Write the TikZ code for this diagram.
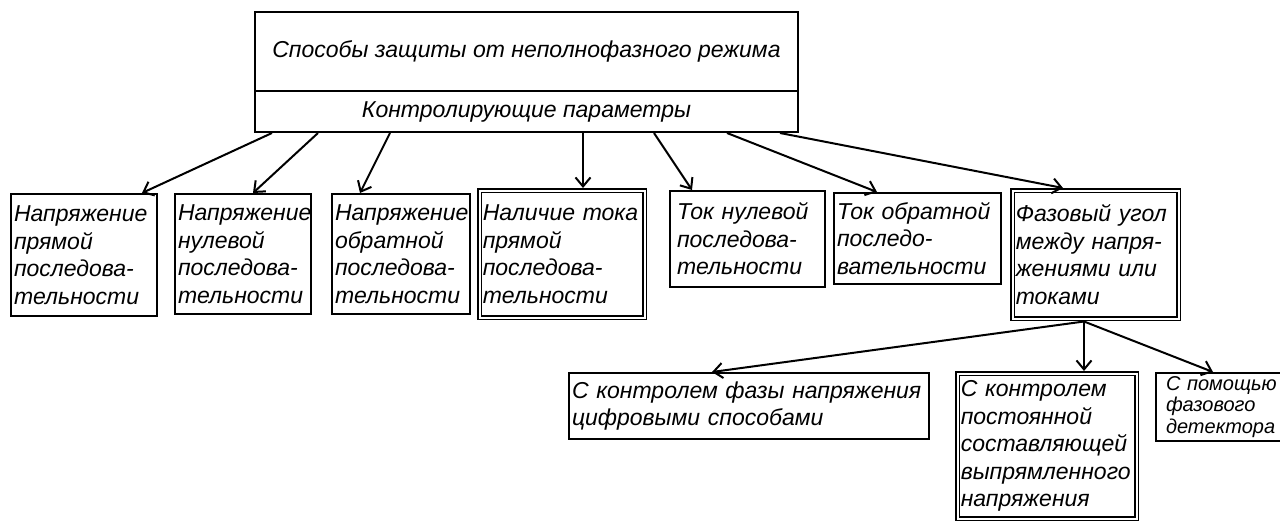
\documentclass[tikz,border=0pt]{standalone}
\usepackage{fontspec}
\setmainfont{Liberation Sans}
\usetikzlibrary{arrows.meta}
\begin{document}
\begin{tikzpicture}[x=1pt,y=-1pt,
  box/.style={draw, line width=2pt, anchor=north west, inner xsep=3pt, inner ysep=0pt,
    align=left, font=\itshape\fontsize{23}{27.5}\selectfont},
  dbox/.style={box, double, double distance=2pt, line width=1.5pt},
  hbox/.style={box, line width=2pt, align=center, minimum width=543pt,
    font=\itshape\fontsize{23}{28}\selectfont},
  conn/.style={line width=2pt, -{Straight Barb[length=9pt,width=15pt,line width=2pt]}}]
\useasboundingbox (0,0) rectangle (1280,524);
\clip (0,0) rectangle (1280,524);
% top box
\node[hbox, minimum height=79pt] (top1) at (254,11) {Способы защиты от неполнофазного режима};
\node[hbox, minimum height=41pt] (top2) at (254,90) {Контролирующие параметры};
% level 2
\node[box, minimum width=146pt, text width=140pt, minimum height=122pt] (b1) at (10,193)
  {Напряжение\\прямой\\последова-\\тельности};
\node[box, minimum width=136pt, text width=130pt, minimum height=120pt] (b2) at (174,193)
  {Напряжение\\нулевой\\последова-\\тельности};
\node[box, minimum width=138pt, text width=132pt, minimum height=120pt] (b3) at (331,193)
  {Напряжение\\обратной\\последова-\\тельности};
\node[dbox, minimum width=165pt, text width=159pt, minimum height=127pt] (b4) at (479,190)
  {Наличие тока\\прямой\\последова-\\тельности};
\node[box, minimum width=155pt, text width=141pt, inner xsep=7pt, minimum height=96pt] (b5) at (669,190)
  {Ток нулевой\\последова-\\тельности};
\node[box, minimum width=167pt, text width=161pt, minimum height=91pt] (b6) at (833,192)
  {Ток обратной\\последо-\\вательности};
\node[dbox, minimum width=166pt, text width=160pt, minimum height=128pt] (b7) at (1012,190)
  {Фазовый угол\\между напря-\\жениями или\\токами};
% level 3
\node[box, minimum width=360pt, text width=354pt, minimum height=66pt] (b8) at (568,372)
  {С контролем фазы напряжения\\цифровыми способами};
\node[dbox, minimum width=179pt, text width=173pt, minimum height=145pt] (b9) at (957,373)
  {С контролем\\постоянной\\составляющей\\выпрямленного\\напряжения};
\node[box, minimum width=140pt, text width=120pt, minimum height=68pt, inner ysep=1pt,
  font=\itshape\fontsize{20}{21.5}\selectfont] (b10) at (1155,372)
  {С помощью\\фазового\\детектора};
% connectors
\draw[conn] ([xshift=18pt]top2.south west) -- ([xshift=-16pt]b1.north east);
\draw[conn] ([xshift=64pt]top2.south west) -- ([xshift=79pt]b2.north west);
\draw[conn] ([xshift=136pt]top2.south west) -- ([xshift=29pt]b3.north west);
\draw[conn] ([xshift=329pt]top2.south west) -- ([xshift=104pt,yshift=2pt]b4.north west);
\draw[conn] ([xshift=400pt]top2.south west) -- ([xshift=23pt]b5.north west);
\draw[conn] ([xshift=473pt]top2.south west) -- ([xshift=44pt]b6.north west);
\draw[conn] ([xshift=526pt]top2.south west) -- ([xshift=51pt,yshift=2pt]b7.north west);
\draw[conn] ([xshift=72pt,yshift=-2pt]b7.south west) -- ([xshift=144pt]b8.north west);
\draw[conn] ([xshift=72pt,yshift=-2pt]b7.south west) -- ([xshift=127pt,yshift=2pt]b9.north west);
\draw[conn] ([xshift=72pt,yshift=-2pt]b7.south west) -- ([xshift=58pt]b10.north west);
\end{tikzpicture}
\end{document}
